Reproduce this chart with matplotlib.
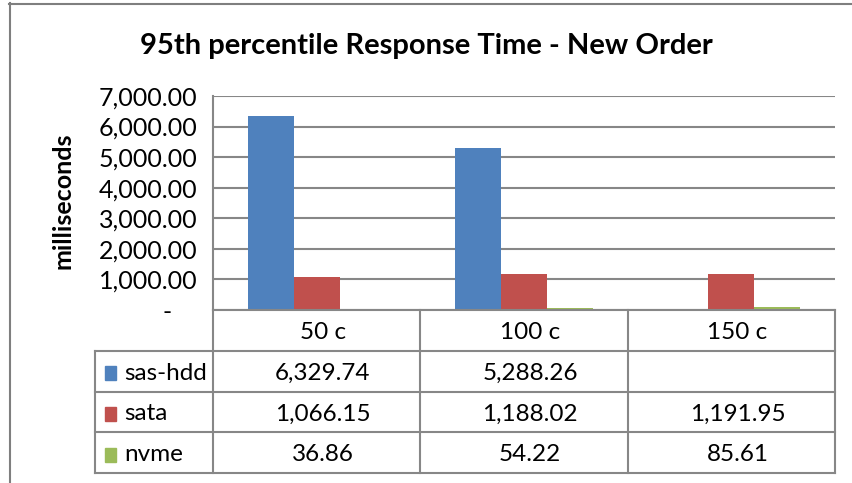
import matplotlib
matplotlib.use('Agg')
import matplotlib.pyplot as plt
import numpy as np
from matplotlib.patches import Rectangle
from matplotlib.lines import Line2D
from matplotlib.ticker import FuncFormatter, MultipleLocator

categories = ['50 c', '100 c', '150 c']
series_names = ['sas-hdd', 'sata', 'nvme']
sas_hdd = [6329.74, 5288.26, np.nan]
sata = [1066.15, 1188.02, 1191.95]
nvme = [36.86, 54.22, 85.61]
series = [sas_hdd, sata, nvme]
colors = ['#4F81BD', '#C0504D', '#9BBB59']
title = '95th percentile Response Time - New Order'
ylabel = 'milliseconds'

plt.rcParams['font.family'] = ['Lato', 'DejaVu Sans']

W, H = 853, 483
fig = plt.figure(figsize=(W / 100, H / 100), dpi=100)


def px(x0, y0, x1, y1):
    return [x0 / W, 1 - y1 / H, (x1 - x0) / W, (y1 - y0) / H]


grid_c = '#878787'
lw = 1.5

# main plot
ax = fig.add_axes(px(213, 96, 835, 310))
x = np.arange(len(categories))
bw = 1 / 4.5
for i, (vals, c) in enumerate(zip(series, colors)):
    ax.bar(x + (i - 1) * bw, vals, width=bw, color=c, edgecolor='none', zorder=3)
ax.set_xlim(-0.5, len(categories) - 0.5)
ax.set_ylim(0, 7000)
ax.yaxis.set_major_locator(MultipleLocator(1000))
ax.yaxis.set_major_formatter(FuncFormatter(lambda v, p: f'{v:,.2f}' if v != 0 else '-    '))
ax.grid(axis='y', color=grid_c, lw=lw, zorder=0)
ax.set_xticks([])
for s in ['top', 'right', 'bottom']:
    ax.spines[s].set_visible(False)
ax.spines['left'].set_color(grid_c)
ax.spines['left'].set_linewidth(lw)
ax.tick_params(axis='y', length=0, pad=11, labelsize=18, labelcolor='black')
ax.set_ylabel(ylabel, fontsize=18, fontweight='bold')
ax.yaxis.set_label_coords(-0.222, 0.51)

fig.text(426 / W, 1 - 46 / H, title, ha='center', va='center', fontsize=21, fontweight='bold')

# data table
tx0 = (213 - 95) / 622 * 3
tab = fig.add_axes(px(95, 310, 835, 473))
tab.set_xlim(-0.5 - tx0, len(categories) - 0.5)
tab.set_ylim(4, 0)
tab.axis('off')
L = -0.5 - tx0
R = len(categories) - 0.5
kw = dict(color=grid_c, lw=lw, clip_on=False, solid_capstyle='projecting')
tab.plot([-0.5, R], [0, 0], **kw)
for r in range(1, 5):
    tab.plot([L, R], [r, r], **kw)
for v in np.arange(len(categories) + 1) - 0.5:
    tab.plot([v, v], [0, 4], **kw)
tab.plot([L, L], [1, 4], **kw)

fs = 17.5
for j, cat in enumerate(categories):
    tab.text(j + 0.03, 0.55, cat, ha='center', va='center', fontsize=fs)
sq_w = 11 / 740 * (R - L)
for i, (name, vals, c) in enumerate(zip(series_names, series, colors)):
    yc = i + 1.55
    tab.add_patch(Rectangle((L + 10 / 740 * (R - L), yc - 0.17), sq_w, 0.34, color=c, clip_on=False))
    tab.text(L + 29 / 740 * (R - L), yc, name, ha='left', va='center', fontsize=fs)
    for j, v in enumerate(vals):
        if not np.isnan(v):
            tab.text(j + 0.03, yc, f'{v:,.2f}', ha='center', va='center', fontsize=fs)

# outer chart border
fig.add_artist(Line2D([9.5 / W, 9.5 / W], [0, 1 - 3 / H], color='#7f7f7f', lw=1.5))
fig.add_artist(Line2D([9 / W, 1], [1 - 3.5 / H, 1 - 3.5 / H], color='#7f7f7f', lw=1.5))

fig.savefig('out.png', dpi=100)
